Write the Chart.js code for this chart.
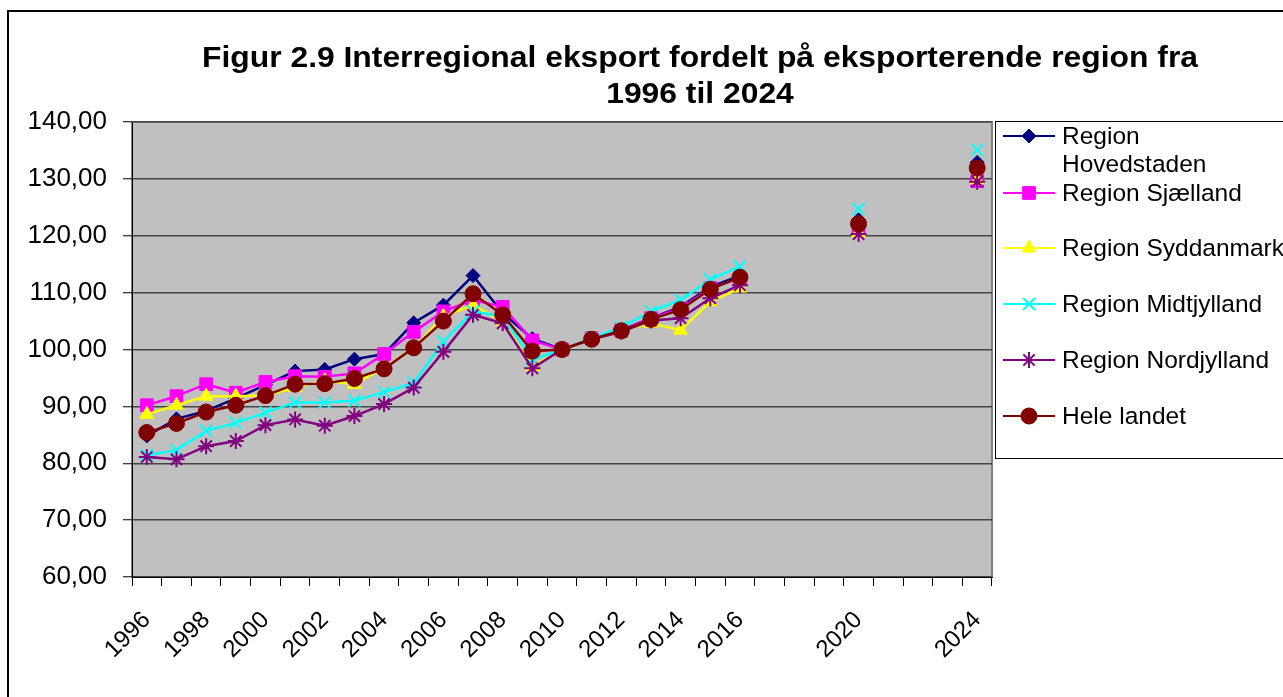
<!DOCTYPE html>
<html>
<head>
<meta charset="utf-8">
<script src="https://cdn.jsdelivr.net/npm/chart.js@4.4.1/dist/chart.umd.min.js"></script>
<style>
  body { margin: 0; background: #fff; }
  canvas { display: block; }
</style>
</head>
<body>
<canvas id="chart" width="1283" height="697"></canvas>
<script>
// categories: every year on the axis, only some get a label
const years = [1996, 1997, 1998, 1999, 2000, 2001, 2002, 2003, 2004, 2005, 2006, 2007, 2008, 2009, 2010,
  2011, 2012, 2013, 2014, 2015, 2016, 2017, 2018, 2019, 2020, 2021, 2022, 2023, 2024];
const labelledYears = [1996, 1998, 2000, 2002, 2004, 2006, 2008, 2010, 2012, 2014, 2016, 2020, 2024];
const yTicks = [60, 70, 80, 90, 100, 110, 120, 130, 140];

const seriesNames = ['Region Hovedstaden', 'Region Sjælland', 'Region Syddanmark', 'Region Midtjylland', 'Region Nordjylland', 'Hele landet'];

const hovedstaden = [84.8, 87.8, 89.2, 91.4, 93.8, 96.2, 96.5, 98.3, 99.2, 104.7, 107.8, 113.0, 106.4, 101.9, 100, 102.0, 103.4, 105.5, 107.5, 111.0, 113.0, null, null, null, 122.8, null, null, null, 132.9];
const sjaelland = [90.2, 91.8, 93.9, 92.4, 94.3, 95.3, 95.2, 95.8, 99.2, 103.1, 106.7, 108.7, 107.5, 101.6, 100, 102.0, 103.4, 105.5, 107.2, 110.8, 112.5, null, null, null, 121.0, null, null, null, 129.6];
const syddanmark = [88.6, 90.2, 91.8, 91.8, 91.9, 93.3, 94.5, 93.9, 96.8, 100.3, 105.8, 107.8, 104.9, 97.0, 100, 102.0, 103.4, 104.6, 103.4, 108.4, 110.8, null, null, null, 120.5, null, null, null, 129.8];
const midtjylland = [81.4, 82.3, 85.7, 87.1, 88.9, 90.7, 90.7, 91.0, 92.5, 94.1, 101.4, 106.7, 105.8, 98.2, 100, 102.0, 103.9, 106.7, 108.7, 112.3, 114.6, null, null, null, 124.7, null, null, null, 135.1];
const nordjylland = [81.1, 80.7, 83.0, 83.9, 86.7, 87.7, 86.6, 88.3, 90.4, 93.3, 99.6, 106.1, 104.6, 96.7, 100, 101.8, 103.1, 105.1, 105.5, 109.0, 111.3, null, null, null, 120.3, null, null, null, 129.5];
const heleLandet = [85.4, 87.0, 89.0, 90.2, 91.9, 93.9, 94.0, 94.9, 96.6, 100.3, 105.0, 109.8, 106.1, 99.7, 100, 101.8, 103.3, 105.3, 107.0, 110.6, 112.7, null, null, null, 122.1, null, null, null, 131.9];

const colors = ['#000080', '#ff00ff', '#ffff00', '#00ffff', '#800080', '#800000'];
const markers = ['rectRot', 'rect', 'triangle', 'crossRot', 'star', 'circle'];
const markerSizes = [7, 9, 8, 8.5, 8, 8];

const allValues = [hovedstaden, sjaelland, syddanmark, midtjylland, nordjylland, heleLandet];

const datasets = allValues.map((vals, i) => ({
  label: seriesNames[i],
  data: vals,
  borderColor: colors[i],
  backgroundColor: colors[i],
  borderWidth: 2.5,
  pointStyle: markers[i],
  pointRadius: markerSizes[i],
  pointBorderWidth: (markers[i] === 'crossRot' || markers[i] === 'star') ? 2 : 1,
  pointBorderColor: colors[i],
  pointBackgroundColor: colors[i],
  tension: 0,
  spanGaps: false,
  order: allValues.length - i // last series drawn on top, like the original
}));

const fmt = (v) => v.toFixed(2).replace('.', ',');
const FONT = '"Liberation Sans", Arial, sans-serif';

// draw text squeezed/stretched to a given width
function fitText(ctx, text, cx, y, width) {
  const w = ctx.measureText(text).width;
  ctx.save();
  ctx.translate(cx, y);
  ctx.scale(width / w, 1);
  ctx.fillText(text, 0, 0);
  ctx.restore();
}

// grey plot background + outer frame, title and a line+marker legend
const decorations = {
  id: 'decorations',
  beforeDraw(chart) {
    const { ctx, chartArea: a } = chart;
    ctx.save();
    ctx.fillStyle = '#fff';
    ctx.fillRect(0, 0, chart.width, chart.height);
    ctx.fillStyle = '#c0c0c0';
    ctx.fillRect(a.left, a.top, a.right - a.left, a.bottom - a.top);
    ctx.strokeStyle = '#808080';
    ctx.lineWidth = 2;
    ctx.strokeRect(a.left, a.top, a.right - a.left, a.bottom - a.top);
    ctx.restore();
  },
  afterDraw(chart) {
    const { ctx } = chart;
    ctx.save();
    // outer frame
    ctx.strokeStyle = '#000';
    ctx.lineWidth = 2;
    ctx.strokeRect(8, 11, 1290, 700);

    // title
    ctx.fillStyle = '#000';
    ctx.font = 'bold 29px ' + FONT;
    ctx.textAlign = 'center';
    ctx.textBaseline = 'alphabetic';
    const line1 = 'Figur 2.9 Interregional eksport fordelt på eksporterende region fra';
    const line2 = '1996 til 2024';
    const scaleX = 996 / ctx.measureText(line1).width;
    fitText(ctx, line1, 700, 67, 996);
    fitText(ctx, line2, 700, 103, ctx.measureText(line2).width * scaleX);

    // legend
    ctx.fillStyle = '#fff';
    ctx.fillRect(995, 121, 300, 337);
    ctx.strokeStyle = '#000';
    ctx.lineWidth = 1;
    ctx.strokeRect(995.5, 121.5, 300, 337);
    const rows = [136, 193, 248, 304, 360, 416];
    ctx.font = '24.5px ' + FONT;
    ctx.textAlign = 'left';
    ctx.textBaseline = 'middle';
    chart.data.datasets.forEach((ds, i) => {
      const y = rows[i];
      ctx.strokeStyle = ds.borderColor;
      ctx.lineWidth = 2;
      ctx.beginPath();
      ctx.moveTo(1003, y);
      ctx.lineTo(1055, y);
      ctx.stroke();
      ctx.fillStyle = ds.backgroundColor;
      ctx.lineWidth = ds.pointBorderWidth;
      Chart.helpers.drawPoint(ctx, { pointStyle: ds.pointStyle, radius: ds.pointRadius, rotation: 0, borderWidth: ds.pointBorderWidth }, 1029, y);
      ctx.fillStyle = '#000';
      if (i === 0) {
        ctx.fillText('Region', 1062, y + 1);
        ctx.fillText('Hovedstaden', 1062, y + 29);
      } else {
        ctx.fillText(ds.label, 1062, y + 1);
      }
    });
    ctx.restore();
  }
};

const ctx = document.getElementById('chart');
new Chart(ctx, {
  type: 'line',
  data: { labels: years, datasets: datasets },
  options: {
    responsive: false,
    animation: false,
    layout: { padding: { top: 122, right: 291, left: 0, bottom: 0 } },
    plugins: { legend: { display: false }, title: { display: false }, tooltip: { enabled: false } },
    scales: {
      x: {
        type: 'category',
        offset: true,
        afterFit: (scale) => { scale.height = 120; },
        grid: { offset: true, drawOnChartArea: false, tickLength: 9, tickColor: '#000', tickWidth: 1 },
        border: { color: '#000', width: 1 },
        ticks: {
          autoSkip: false,
          minRotation: 45,
          maxRotation: 45,
          padding: 20,
          color: '#000',
          font: { family: FONT, size: 24 },
          callback: function (value) {
            const yr = years[value];
            return labelledYears.includes(yr) ? String(yr) : '';
          }
        }
      },
      y: {
        min: 60,
        max: 140,
        afterFit: (scale) => { scale.width = 132; },
        afterBuildTicks: (scale) => { scale.ticks = yTicks.map((v) => ({ value: v })); },
        grid: { color: '#444', lineWidth: 1.5, tickLength: 9, tickColor: '#000', tickWidth: 1 },
        border: { color: '#000', width: 1 },
        ticks: {
          padding: 16,
          color: '#000',
          font: { family: FONT, size: 26 },
          callback: (v) => fmt(v)
        }
      }
    }
  },
  plugins: [decorations]
});
</script>
</body>
</html>
